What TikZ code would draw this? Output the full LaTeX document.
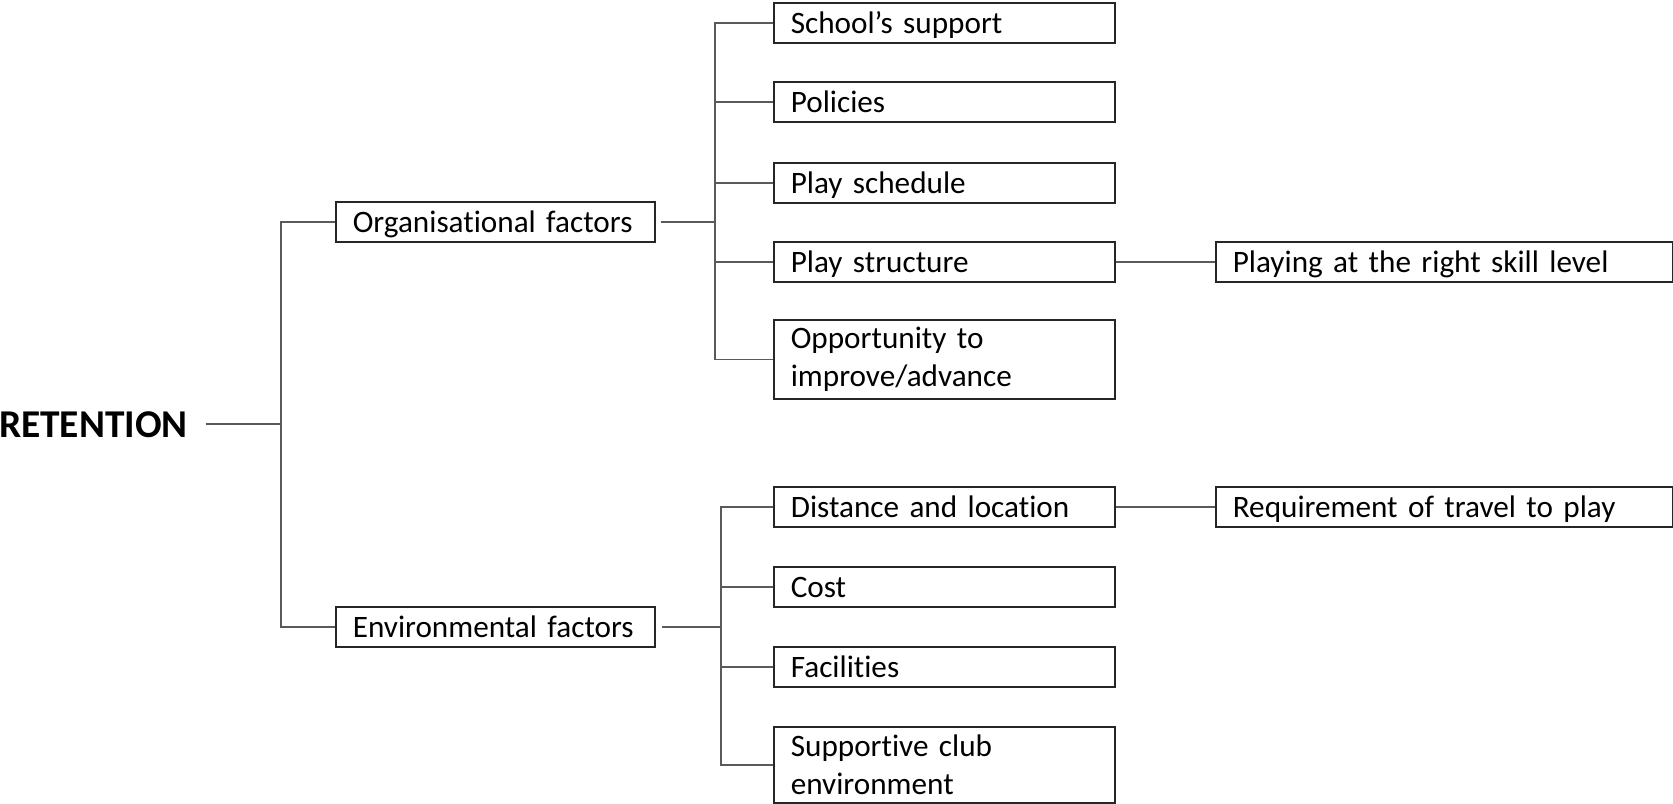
\documentclass[tikz,border=0pt]{standalone}
\usepackage{fontspec}
\setmainfont{Carlito}[Ligatures={NoCommon,NoDiscretionary}]
\definecolor{boxline}{HTML}{262626}
\definecolor{connline}{HTML}{5A5A5A}
\begin{document}
\begin{tikzpicture}[x=0.5pt,y=-0.5pt,
  box/.style={draw=boxline, line width=0.8pt, rectangle, anchor=north west,
    inner xsep=8.5pt, inner ysep=0pt, minimum height=20pt,
    text height=13pt, text depth=2pt, align=left, text=black,
    font=\fontsize{15.6pt}{19pt}\selectfont},
  factorbox/.style={box, text width=142.5pt},
  itembox/.style={box, text width=153.5pt},
  detailbox/.style={box, text width=211.5pt},
  tallbox/.style={text height={}, text depth={}, minimum height=#1},
  conn/.style={draw=connline, line width=0.75pt}]

\useasboundingbox (0,0) rectangle (1673,803);

% root (the outer separation keeps the link clear of the word)
\node[anchor=base west, inner sep=0pt, outer xsep=9pt, outer ysep=0pt,
      font=\fontsize{19.7pt}{22pt}\selectfont\bfseries] (ret) at (-19,437) {RETENTION};

% first level
\node[factorbox] (org) at (335,201) {Organisational factors};
\node[factorbox] (env) at (335,606) {Environmental factors};

% organisational items
\node[itembox] (school)    at (773,2)   {School’s support};
\node[itembox] (policies)  at (773,81)  {Policies};
\node[itembox] (schedule)  at (773,162) {Play schedule};
\node[itembox] (structure) at (773,241) {Play structure};
\node[itembox, tallbox=39.5pt] (opp) at (773,319) {Opportunity to\\improve/advance};

% environmental items
\node[itembox] (distance)   at (773,486) {Distance and location};
\node[itembox] (cost)       at (773,566) {Cost};
\node[itembox] (facilities) at (773,646) {Facilities};
\node[itembox, tallbox=38pt] (club) at (773,726) {Supportive club\\environment};

% details
\node[detailbox] (skill)  at (1215,241) {Playing at the right skill level};
\node[detailbox] (travel) at (1215,486) {Requirement of travel to play};

% forks
\coordinate (rootfork) at (281,423);
\coordinate (orgfork)  at (715,0);
\coordinate (envfork)  at (721,0);

% root bracket
\draw[conn] (ret.east) -- (ret.east -| rootfork);
\draw[conn] (org.west) -| (rootfork) |- (env.west);

% organisational bracket
\draw[conn, shorten <=2.5pt] (org.east) -- (org.east -| orgfork);
\draw[conn] (school.west) -| (orgfork |- opp.west) -- (opp.west);
\foreach \n in {policies,schedule,structure}
  \draw[conn] (\n.west) -- (\n.west -| orgfork);

% environmental bracket
\draw[conn, shorten <=3pt] (env.east) -- (env.east -| envfork);
\draw[conn] (distance.west) -| (envfork |- club.west) -- (club.west);
\foreach \n in {cost,facilities}
  \draw[conn] (\n.west) -- (\n.west -| envfork);

% detail links
\draw[conn] (structure.east) -- (skill.west);
\draw[conn] (distance.east) -- (travel.west);
\end{tikzpicture}
\end{document}
